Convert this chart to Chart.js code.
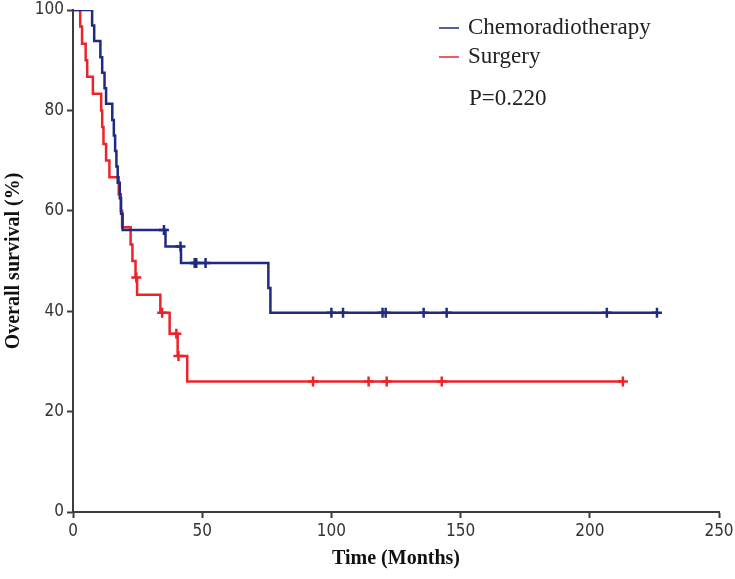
<!DOCTYPE html>
<html>
<head>
<meta charset="utf-8">
<script src="https://cdn.jsdelivr.net/npm/chart.js@4"></script>
<style>
  html, body { margin: 0; padding: 0; background: #fff; }
  #wrap { width: 735px; height: 579px; }
</style>
</head>
<body>
<div id="wrap"><canvas id="km" width="735" height="579"></canvas></div>
<script>
// Chemoradiotherapy: step times (months) and survival (%) after each step
const crtTimes = [0, 7.4, 8.2, 10.6, 11.3, 12.2, 12.8, 15.2, 15.8, 16.3, 16.8, 17.3, 18.1, 18.6, 19.2, 35.8, 41.8, 75.6, 76.4, 226];
const crtSurv  = [100, 96.9, 93.8, 90.6, 87.5, 84.4, 81.3, 78.1, 75.0, 71.9, 68.8, 65.6, 62.5, 59.4, 56.2, 52.9, 49.6, 44.6, 39.7, 39.7];
const crtCensorTimes = [35.2, 41.6, 47.1, 47.7, 51.3, 100, 104.5, 119.8, 121, 135.7, 144.6, 206.6, 226];
const crtCensorSurv  = [56.2, 52.9, 49.6, 49.6, 49.6, 39.7, 39.7, 39.7, 39.7, 39.7, 39.7, 39.7, 39.7];

// Surgery
const surgTimes = [0, 2.8, 3.5, 4.9, 5.5, 7.7, 10.9, 11.3, 11.8, 12.8, 14.1, 17.7, 18.5, 19.0, 22.3, 23.0, 24.2, 24.8, 33.8, 37.4, 40.5, 44.2, 212.8];
const surgSurv  = [100, 96.7, 93.3, 90.0, 86.7, 83.3, 80.0, 76.7, 73.3, 70.0, 66.7, 63.3, 60.0, 56.7, 53.3, 50.0, 46.7, 43.3, 39.7, 35.5, 31.1, 26.0, 26.0];
const surgCensorTimes = [24.5, 34.5, 40.0, 40.8, 92.9, 114.4, 121.4, 142.7, 212.8];
const surgCensorSurv  = [46.7, 39.7, 35.5, 31.1, 26.0, 26.0, 26.0, 26.0, 26.0];

const xTicks = [0, 50, 100, 150, 200, 250];
const yTicks = [0, 20, 40, 60, 80, 100];
const groupNames = ['Chemoradiotherapy', 'Surgery'];
const pValue = 'P=0.220';

const BLUE = '#1f2b80';
const RED = '#e9252b';
const AXIS = '#3c3c3c';

const toPts = (xs, ys) => xs.map((x, i) => ({ x: x, y: ys[i] }));

const legendPlugin = {
   id: 'kmLegend',
   afterDraw(chart) {
      const c = chart.ctx;
      const a = chart.chartArea;
      const x0 = a.left + 366;
      const rows = [[groupNames[0], BLUE, a.top + 18], [groupNames[1], RED, a.top + 47]];
      c.save();
      c.font = "23px 'Liberation Serif'";
      c.textBaseline = 'middle';
      rows.forEach(([label, color, y]) => {
         c.strokeStyle = color;
         c.lineWidth = 1.5;
         c.beginPath();
         c.moveTo(x0, y);
         c.lineTo(x0 + 20, y);
         c.stroke();
         c.fillStyle = '#222';
         c.fillText(label, x0 + 29, y);
      });
      c.fillText(pValue, x0 + 30, a.top + 89);
      c.restore();
   }
};

const ctx = document.getElementById('km').getContext('2d');
const chart = new Chart(ctx, {
   type: 'line',
   data: {
      datasets: [
         { label: groupNames[0], data: toPts(crtTimes, crtSurv), borderColor: BLUE, borderWidth: 2.5, stepped: true, pointRadius: 0, fill: false },
         { label: groupNames[1], data: toPts(surgTimes, surgSurv), borderColor: RED, borderWidth: 2.5, stepped: true, pointRadius: 0, fill: false },
         { type: 'scatter', label: 'crt censored', data: toPts(crtCensorTimes, crtCensorSurv), pointStyle: 'cross', pointRadius: 5, borderColor: BLUE, borderWidth: 2.5, backgroundColor: BLUE },
         { type: 'scatter', label: 'surg censored', data: toPts(surgCensorTimes, surgCensorSurv), pointStyle: 'cross', pointRadius: 5, borderColor: RED, borderWidth: 2.5, backgroundColor: RED },
      ]
   },
   options: {
      responsive: false,
      animation: false,
      layout: { padding: { top: 10, right: 16, left: 0, bottom: 0 } },
      scales: {
         x: {
            type: 'linear',
            min: 0,
            max: 250,
            afterBuildTicks: s => { s.ticks = xTicks.map(v => ({ value: v })); },
            afterFit: s => { s.height = 67; s.paddingLeft = 0; s.paddingRight = 0; },
            grid: { drawOnChartArea: false, tickLength: 6, tickColor: AXIS, tickWidth: 2 },
            border: { color: AXIS, width: 2 },
            ticks: { color: '#333', padding: 3, font: { family: "'Liberation Sans Narrow', 'DejaVu Sans Condensed'", size: 17 } },
            title: { display: true, text: 'Time (Months)', color: '#111', padding: { top: 0, bottom: 8 }, font: { family: "'Liberation Serif'", size: 20, weight: 'bold' } }
         },
         y: {
            min: 0,
            max: 100,
            afterBuildTicks: s => { s.ticks = yTicks.map(v => ({ value: v })); },
            afterFit: s => { s.width = 73; s.paddingTop = 0; s.paddingBottom = 0; },
            grid: { drawOnChartArea: false, tickLength: 6, tickColor: AXIS, tickWidth: 2 },
            border: { color: AXIS, width: 2 },
            ticks: { color: '#333', padding: 3, font: { family: "'Liberation Sans Narrow', 'DejaVu Sans Condensed'", size: 17 } },
            title: { display: true, text: 'Overall survival (%)', color: '#111', padding: { top: 2, bottom: 0 }, font: { family: "'Liberation Serif'", size: 20, weight: 'bold' } }
         }
      },
      plugins: {
         legend: { display: false },
         tooltip: { enabled: false }
      }
   },
   plugins: [legendPlugin]
});
</script>
</body>
</html>
